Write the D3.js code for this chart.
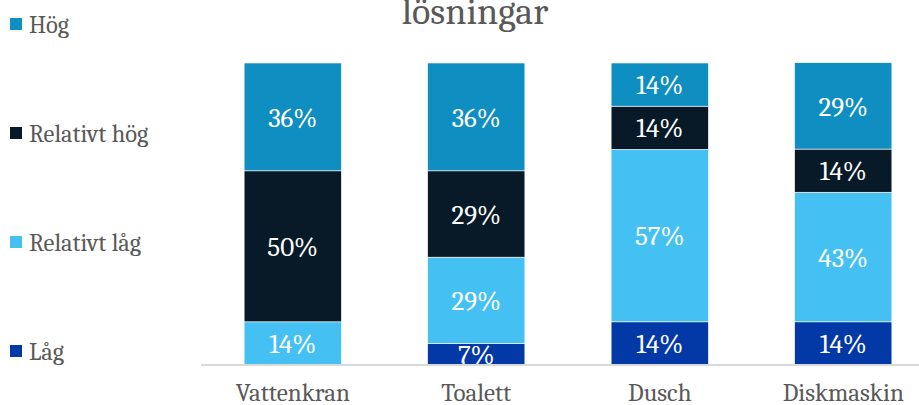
<!DOCTYPE html>
<html>
<head>
<meta charset="utf-8">
<script src="https://cdn.jsdelivr.net/npm/d3@7"></script>
<style>
  body { margin: 0; background: #fff; }
  svg text { font-family: Cambria, "DejaVu Serif", serif; }
</style>
</head>
<body>
<svg id="chart" width="919" height="405"></svg>
<script>
// Categories and series (share of answers, %)
var categories = ['Vattenkran', 'Toalett', 'Dusch', 'Diskmaskin'];
var seriesNames = ['Låg', 'Relativt låg', 'Relativt hög', 'Hög'];
var lag         = [0, 7.1, 14.3, 14.3];
var relLag      = [14.3, 28.6, 57.1, 42.9];
var relHog      = [50.0, 28.6, 14.3, 14.3];
var hog         = [35.7, 35.7, 14.3, 28.6];
var labels = [
    ['', '7%', '14%', '14%'],
    ['14%', '29%', '57%', '43%'],
    ['50%', '29%', '14%', '14%'],
    ['36%', '36%', '14%', '29%']
];
var colors = ['#0339a6', '#44c1f2', '#081a28', '#0e8ec1'];

var svg = d3.select('#chart');

// build rows for the stack
var rows = categories.map(function (c, i) {
    return { cat: c, 'Låg': lag[i], 'Relativt låg': relLag[i], 'Relativt hög': relHog[i], 'Hög': hog[i] };
});
var stack = d3.stack().keys(seriesNames)(rows);

var x = d3.scaleBand().domain(categories).range([201, 935]).paddingInner(0.47).paddingOuter(0.235);
var y = d3.scaleLinear().domain([0, 100]).range([365, 63]);

// title (first line is outside the picture)
svg.append('text')
    .attr('x', 475).attr('y', 24)
    .attr('text-anchor', 'middle')
    .attr('font-size', 38)
    .attr('fill', '#595959')
    .text('lösningar');

// bars
var g = svg.append('g');
stack.forEach(function (s, si) {
    var segs = s.filter(function (d) { return d[1] > d[0]; });
    g.selectAll('rect.s' + si)
        .data(segs)
        .enter()
        .append('rect')
        .attr('x', function (d) { return x(d.data.cat); })
        .attr('y', function (d) { return y(d[1]); })
        .attr('width', x.bandwidth())
        .attr('height', function (d) { return y(d[0]) - y(d[1]); })
        .attr('fill', colors[si])
        .attr('stroke', '#ffffff')
        .attr('stroke-width', 0.6);

    g.selectAll('text.s' + si)
        .data(segs)
        .enter()
        .append('text')
        .attr('x', function (d) { return x(d.data.cat) + x.bandwidth() / 2; })
        .attr('y', function (d) { return (y(d[0]) + y(d[1])) / 2; })
        .attr('dy', '0.36em')
        .attr('text-anchor', 'middle')
        .attr('font-size', 27)
        .attr('fill', '#ffffff')
        .text(function (d) { return labels[si][categories.indexOf(d.data.cat)]; });
});

// category axis
var axis = svg.append('g')
    .attr('transform', 'translate(0,365)')
    .call(d3.axisBottom(x).tickSize(0));
axis.select('.domain').attr('stroke', '#d9d9d9').attr('stroke-width', 2)
    .attr('d', 'M201,0H919');
axis.selectAll('text')
    .attr('y', 36)
    .attr('dy', 0)
    .attr('font-size', 25)
    .attr('font-family', 'Cambria, "DejaVu Serif", serif')
    .attr('fill', '#595959');

// legend (top to bottom: Hög ... Låg)
var legendY = d3.scalePoint().domain(seriesNames.slice().reverse()).range([25, 352]);
var legend = svg.selectAll('g.legend')
    .data(seriesNames.slice().reverse())
    .enter()
    .append('g')
    .attr('transform', function (d) { return 'translate(10,' + legendY(d) + ')'; });
legend.append('rect')
    .attr('x', 0).attr('y', -7)
    .attr('width', 12).attr('height', 12)
    .attr('fill', function (d) { return colors[seriesNames.indexOf(d)]; });
legend.append('text')
    .attr('x', 19).attr('dy', '0.33em')
    .attr('font-size', 24.5)
    .attr('fill', '#595959')
    .text(function (d) { return d; });
</script>
</body>
</html>
